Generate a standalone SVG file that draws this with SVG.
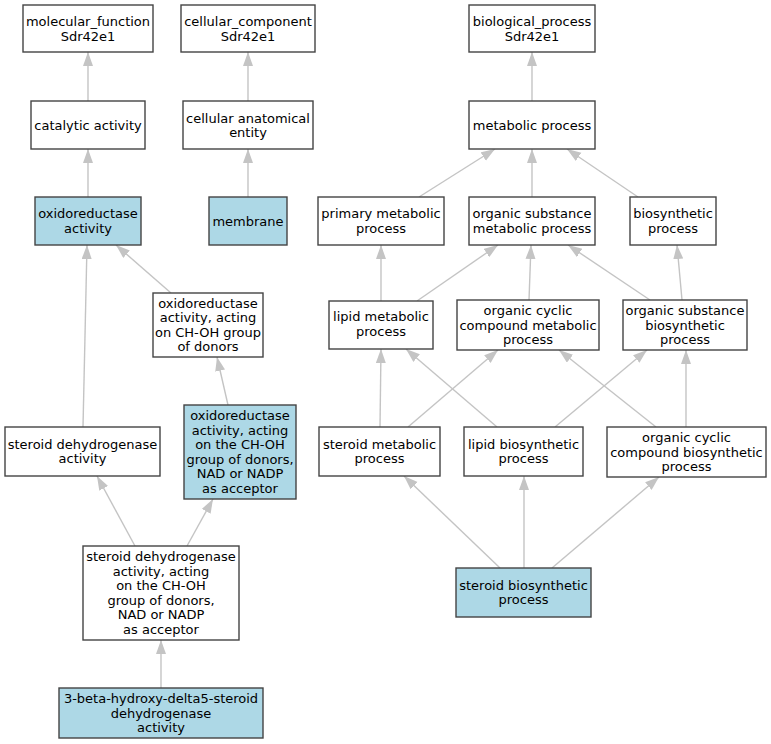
<svg xmlns="http://www.w3.org/2000/svg" width="771" height="744" viewBox="0 0 771 744">
<defs>
<style>
.n rect{fill:#ffffff;stroke:#444444;stroke-width:1.4}
.n.h rect{fill:#add8e6}
.n text{font-family:"DejaVu Sans",Verdana,sans-serif;font-size:13px;fill:#000;text-anchor:middle}
.e line{stroke:#c4c4c4;stroke-width:1.4;fill:none;marker-end:url(#ah)}
</style>
<marker id="ah" markerUnits="userSpaceOnUse" markerWidth="16" markerHeight="12" refX="14" refY="5" orient="auto">
<path d="M0,0 L14,5 L0,10 Z" fill="#c4c4c4"/>
</marker>
</defs>
<rect width="771" height="744" fill="#ffffff"/>
<g id="edges" class="e">
<line x1="88" y1="101" x2="88" y2="52"/>
<line x1="88" y1="197" x2="88" y2="149"/>
<line x1="248" y1="101" x2="248" y2="52"/>
<line x1="248" y1="197" x2="248" y2="149"/>
<line x1="532" y1="101" x2="532" y2="52"/>
<line x1="419" y1="197" x2="495" y2="149"/>
<line x1="532" y1="197" x2="532" y2="149"/>
<line x1="638" y1="197" x2="567" y2="149"/>
<line x1="171" y1="293" x2="116" y2="245"/>
<line x1="83" y1="427" x2="87" y2="245"/>
<line x1="228" y1="405" x2="217" y2="357"/>
<line x1="135" y1="546" x2="97" y2="476"/>
<line x1="187" y1="546" x2="213" y2="499"/>
<line x1="161" y1="688" x2="161" y2="640"/>
<line x1="381" y1="301" x2="381" y2="245"/>
<line x1="417" y1="301" x2="498" y2="245"/>
<line x1="529" y1="300" x2="531" y2="245"/>
<line x1="650" y1="300" x2="568" y2="245"/>
<line x1="682" y1="300" x2="677" y2="245"/>
<line x1="380" y1="427" x2="381" y2="349"/>
<line x1="408" y1="427" x2="498" y2="350"/>
<line x1="497" y1="427" x2="406" y2="349"/>
<line x1="555" y1="427" x2="647" y2="350"/>
<line x1="656" y1="427" x2="559" y2="350"/>
<line x1="686" y1="427" x2="686" y2="350"/>
<line x1="500" y1="568" x2="404" y2="476"/>
<line x1="524" y1="568" x2="524" y2="476"/>
<line x1="552" y1="568" x2="659" y2="477"/>
</g>
<g id="molecular_function" class="n"><rect x="23" y="5" width="130" height="47"/><text x="88" y="25.5">molecular_function</text><text x="88" y="40.5">Sdr42e1</text></g>
<g id="cellular_component" class="n"><rect x="181" y="5" width="134" height="47"/><text x="248" y="25.5">cellular_component</text><text x="248" y="40.5">Sdr42e1</text></g>
<g id="biological_process" class="n"><rect x="469" y="5" width="126" height="47"/><text x="532" y="25.5">biological_process</text><text x="532" y="40.5">Sdr42e1</text></g>
<g id="catalytic_activity" class="n"><rect x="31" y="101" width="114" height="48"/><text x="88" y="129.5">catalytic activity</text></g>
<g id="cellular_anatomical_entity" class="n"><rect x="183" y="101" width="130" height="48"/><text x="248" y="122.5">cellular anatomical</text><text x="248" y="137">entity</text></g>
<g id="metabolic_process" class="n"><rect x="469" y="101" width="126" height="48"/><text x="532" y="129.5">metabolic process</text></g>
<g id="oxidoreductase_activity" class="n h"><rect x="35" y="197" width="106" height="48"/><text x="88" y="218">oxidoreductase</text><text x="88" y="232.5">activity</text></g>
<g id="membrane" class="n h"><rect x="209" y="197" width="78" height="48"/><text x="248" y="225.5">membrane</text></g>
<g id="primary_metabolic_process" class="n"><rect x="318" y="197" width="126" height="48"/><text x="381" y="218">primary metabolic</text><text x="381" y="232.5">process</text></g>
<g id="organic_substance_metabolic_process" class="n"><rect x="469" y="197" width="126" height="48"/><text x="532" y="218">organic substance</text><text x="532" y="232.5">metabolic process</text></g>
<g id="biosynthetic_process" class="n"><rect x="630" y="197" width="86" height="48"/><text x="673" y="218">biosynthetic</text><text x="673" y="232.5">process</text></g>
<g id="oxidoreductase_choh" class="n"><rect x="153" y="293" width="110" height="64"/><text x="208" y="307.5">oxidoreductase</text><text x="208" y="322">activity, acting</text><text x="208" y="336.5">on CH-OH group</text><text x="208" y="351">of donors</text></g>
<g id="lipid_metabolic_process" class="n"><rect x="329" y="301" width="104" height="48"/><text x="381" y="321">lipid metabolic</text><text x="381" y="335.5">process</text></g>
<g id="organic_cyclic_compound_metabolic_process" class="n"><rect x="457" y="300" width="142" height="50"/><text x="528" y="315">organic cyclic</text><text x="528" y="329.5">compound metabolic</text><text x="528" y="344">process</text></g>
<g id="organic_substance_biosynthetic_process" class="n"><rect x="623" y="300" width="124" height="50"/><text x="685" y="315">organic substance</text><text x="685" y="329.5">biosynthetic</text><text x="685" y="344">process</text></g>
<g id="oxidoreductase_nad" class="n h"><rect x="184" y="405" width="112" height="94"/><text x="240" y="420">oxidoreductase</text><text x="240" y="434.5">activity, acting</text><text x="240" y="449">on the CH-OH</text><text x="240" y="463.5">group of donors,</text><text x="240" y="478">NAD or NADP</text><text x="240" y="492.5">as acceptor</text></g>
<g id="steroid_dehydrogenase_activity" class="n"><rect x="5" y="427" width="155" height="49"/><text x="82.5" y="448.5">steroid dehydrogenase</text><text x="82.5" y="463">activity</text></g>
<g id="steroid_metabolic_process" class="n"><rect x="319" y="427" width="121" height="49"/><text x="379.5" y="448.5">steroid metabolic</text><text x="379.5" y="463">process</text></g>
<g id="lipid_biosynthetic_process" class="n"><rect x="464" y="427" width="119" height="49"/><text x="523.5" y="448.5">lipid biosynthetic</text><text x="523.5" y="463">process</text></g>
<g id="organic_cyclic_compound_biosynthetic_process" class="n"><rect x="607" y="427" width="159" height="50"/><text x="686.5" y="442">organic cyclic</text><text x="686.5" y="456.5">compound biosynthetic</text><text x="686.5" y="471">process</text></g>
<g id="steroid_dehydrogenase_acting" class="n"><rect x="83" y="546" width="156" height="94"/><text x="161" y="561">steroid dehydrogenase</text><text x="161" y="575.5">activity, acting</text><text x="161" y="590">on the CH-OH</text><text x="161" y="604.5">group of donors,</text><text x="161" y="619">NAD or NADP</text><text x="161" y="633.5">as acceptor</text></g>
<g id="steroid_biosynthetic_process" class="n h"><rect x="456" y="568" width="135" height="49"/><text x="523.5" y="589.5">steroid biosynthetic</text><text x="523.5" y="604">process</text></g>
<g id="hsd3b" class="n h"><rect x="59" y="688" width="204" height="50"/><text x="161" y="703">3-beta-hydroxy-delta5-steroid</text><text x="161" y="717.5">dehydrogenase</text><text x="161" y="732">activity</text></g>
</svg>
